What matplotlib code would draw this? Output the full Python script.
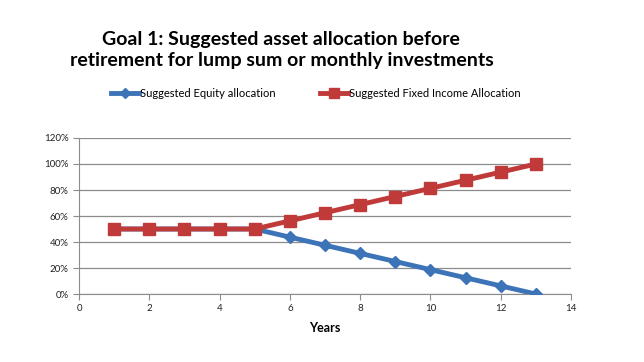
import matplotlib.pyplot as plt
from matplotlib.ticker import FuncFormatter

years = [1, 2, 3, 4, 5, 6, 7, 8, 9, 10, 11, 12, 13]
equity = [0.50, 0.50, 0.50, 0.50, 0.50, 0.4375, 0.375, 0.3125, 0.25, 0.1875, 0.125, 0.0625, 0.0]
fixed_income = [0.50, 0.50, 0.50, 0.50, 0.50, 0.5625, 0.625, 0.6875, 0.75, 0.8125, 0.875, 0.9375, 1.0]

blue = '#3d74b8'
red = '#c03a3a'

plt.rcParams['font.family'] = ['Lato', 'DejaVu Sans']

fig = plt.figure(figsize=(6.44, 3.62), dpi=100)
ax = fig.add_axes([0.1227, 0.1878, 0.7639, 0.431])

ax.plot(years, equity, color=blue, lw=3.5, marker='D', ms=6,
        label='Suggested Equity allocation', zorder=3)
ax.plot(years, fixed_income, color=red, lw=3.5, marker='s', ms=9,
        label='Suggested Fixed Income Allocation', zorder=3)

ax.set_xlim(0, 14)
ax.set_ylim(0, 1.2)
ax.set_xticks(range(0, 15, 2))
ax.set_yticks([0, 0.2, 0.4, 0.6, 0.8, 1.0, 1.2])
ax.yaxis.set_major_formatter(FuncFormatter(lambda v, p: f'{v * 100:.0f}%'))
ax.grid(axis='y', color='#8c8c8c', lw=0.9)
ax.set_axisbelow(True)
for s in ['top', 'right']:
    ax.spines[s].set_visible(False)
for s in ['left', 'bottom']:
    ax.spines[s].set_color('#8c8c8c')
ax.tick_params(axis='both', labelsize=7, colors='#8c8c8c', labelcolor='#222222',
               length=4, direction='out')
ax.set_xlabel('Years', fontsize=9, fontweight='bold', labelpad=6)

fig.text(0.437, 0.862, 'Goal 1: Suggested asset allocation before\nretirement for lump sum or monthly investments',
         ha='center', va='center', fontsize=14, fontweight='bold', linespacing=1.3)

fig.legend(loc='center', bbox_to_anchor=(0.49, 0.742), ncol=2, frameon=False,
           fontsize=8, handlelength=2.5, handletextpad=0.1, columnspacing=4,
           markerscale=0.8)

fig.savefig('out.png', dpi=100)
